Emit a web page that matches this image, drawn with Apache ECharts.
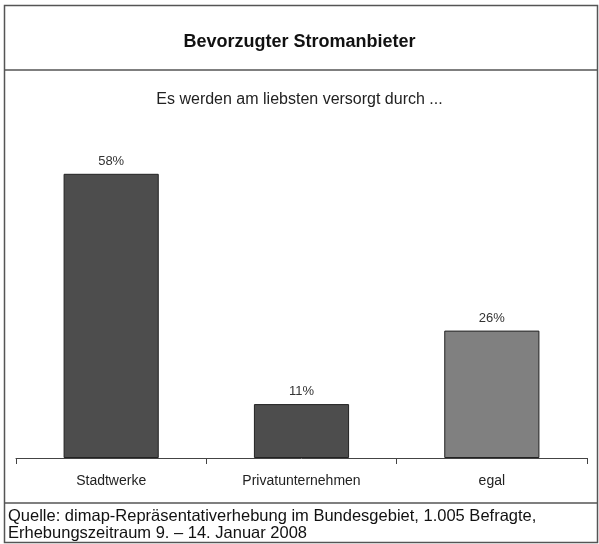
<!DOCTYPE html>
<html>
<head>
<meta charset="utf-8">
<script src="https://cdn.jsdelivr.net/npm/echarts@6/dist/echarts.min.js"></script>
<style>
  html, body { margin: 0; padding: 0; background: #fff; }
  #chart { width: 599px; height: 544px; }
</style>
</head>
<body>
<div id="chart"></div>
<script>
const categories = ['Stadtwerke', 'Privatunternehmen', 'egal']
const shares = [58, 11, 26]
const barColors = ['#4d4d4d', '#4d4d4d', '#808080']

const chart = echarts.init(document.getElementById('chart'))
const font = 'Liberation Sans, Arial, sans-serif'
const frame = '#555'

chart.setOption({
  animation: false,
  textStyle: { fontFamily: font },
  title: [{
    text: 'Bevorzugter Stromanbieter',
    left: 'center',
    top: 28,
    textStyle: { fontSize: 18, fontWeight: 'bold', color: '#111', fontFamily: font }
  }, {
    text: 'Es werden am liebsten versorgt durch ...',
    left: 'center',
    top: 87,
    textStyle: { fontSize: 16, fontWeight: 'normal', color: '#222', fontFamily: font }
  }],
  grid: { left: 16, right: 12, top: 164, bottom: 86 },
  xAxis: {
    type: 'category',
    data: categories,
    boundaryGap: true,
    axisLine: { lineStyle: { color: '#444', width: 1 } },
    axisTick: { show: true, length: 6, lineStyle: { color: '#444' } },
    axisLabel: { margin: 16, fontSize: 14, color: '#222', fontFamily: font }
  },
  yAxis: {
    type: 'value',
    min: 0,
    max: 60,
    show: false,
    splitLine: { show: false }
  },
  series: [{
    type: 'bar',
    barWidth: '50%',
    data: shares.map((v, i) => ({
      value: v,
      itemStyle: { color: barColors[i], borderColor: '#222', borderWidth: 1 }
    })),
    label: {
      show: true,
      position: 'top',
      distance: 6,
      formatter: '{c}%',
      fontSize: 13,
      color: '#333',
      fontFamily: font
    }
  }],
  graphic: [
    // outer frame
    { type: 'rect', shape: { x: 4.5, y: 5.5, width: 593, height: 537 }, style: { fill: null, stroke: frame, lineWidth: 1.5 } },
    // title divider
    { type: 'line', shape: { x1: 4, y1: 70, x2: 598, y2: 70 }, style: { stroke: frame, lineWidth: 1.5 } },
    // footer divider
    { type: 'line', shape: { x1: 4, y1: 503, x2: 598, y2: 503 }, style: { stroke: frame, lineWidth: 1.5 } },
    {
      type: 'text',
      left: 8,
      top: 508,
      style: {
        text: 'Quelle: dimap-Repräsentativerhebung im Bundesgebiet, 1.005 Befragte,\nErhebungszeitraum 9. – 14. Januar 2008',
        font: '16.5px ' + font,
        fill: '#111',
        lineHeight: 17
      }
    }
  ]
})
</script>
</body>
</html>
